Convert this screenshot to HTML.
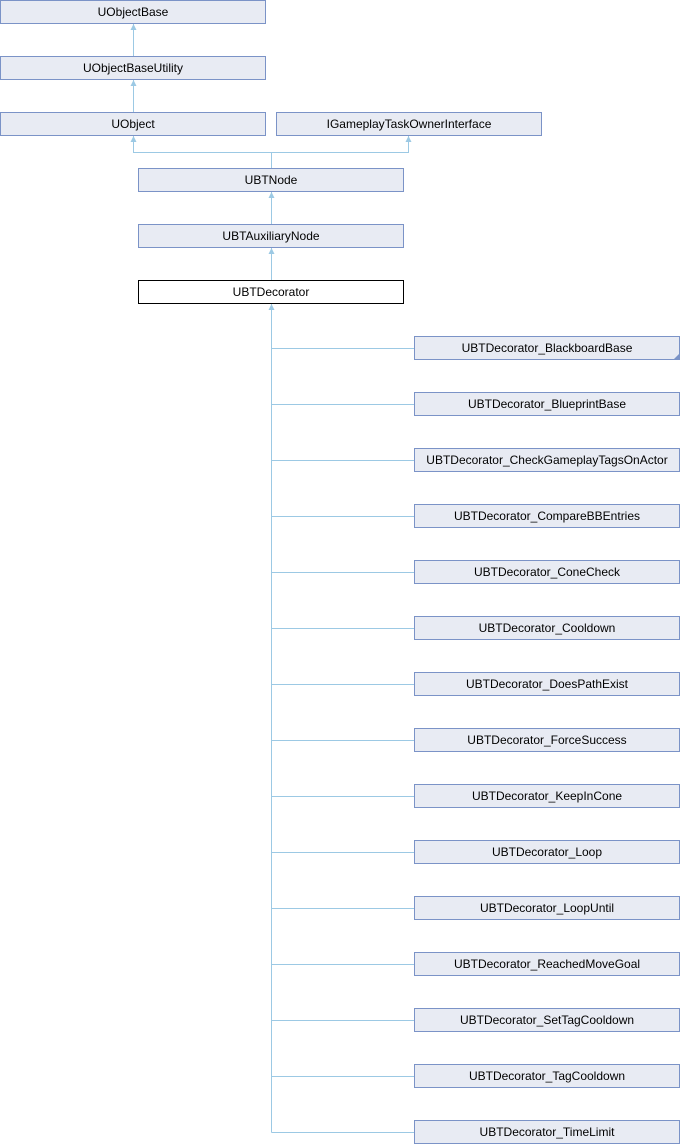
<!DOCTYPE html>
<html><head><style>body{margin:0;background:#fff}svg{display:block}text{font-family:"Liberation Sans",sans-serif;font-size:12px;fill:#000}</style></head><body>
<svg width="680" height="1144" xmlns="http://www.w3.org/2000/svg">
<defs><marker id="a" markerWidth="8" markerHeight="8" refX="4" refY="1" orient="0" markerUnits="userSpaceOnUse"><path d="M1,7 L4,1 L7,7 Z" fill="#9cc9e4"/></marker></defs>
<g stroke="#9cc9e4" fill="none">
<line x1="133.5" y1="56" x2="133.5" y2="24" marker-end="url(#a)"/>
<line x1="133.5" y1="112" x2="133.5" y2="80" marker-end="url(#a)"/>
<polyline points="271.5,168 271.5,152.5 133.5,152.5 133.5,136" marker-end="url(#a)"/>
<polyline points="271.5,152.5 408.5,152.5 408.5,136" marker-end="url(#a)"/>
<line x1="271.5" y1="224" x2="271.5" y2="192" marker-end="url(#a)"/>
<line x1="271.5" y1="280" x2="271.5" y2="248" marker-end="url(#a)"/>
<line x1="271.5" y1="1132.5" x2="271.5" y2="304" marker-end="url(#a)"/>
<line x1="271.5" y1="348.5" x2="414" y2="348.5"/>
<line x1="271.5" y1="404.5" x2="414" y2="404.5"/>
<line x1="271.5" y1="460.5" x2="414" y2="460.5"/>
<line x1="271.5" y1="516.5" x2="414" y2="516.5"/>
<line x1="271.5" y1="572.5" x2="414" y2="572.5"/>
<line x1="271.5" y1="628.5" x2="414" y2="628.5"/>
<line x1="271.5" y1="684.5" x2="414" y2="684.5"/>
<line x1="271.5" y1="740.5" x2="414" y2="740.5"/>
<line x1="271.5" y1="796.5" x2="414" y2="796.5"/>
<line x1="271.5" y1="852.5" x2="414" y2="852.5"/>
<line x1="271.5" y1="908.5" x2="414" y2="908.5"/>
<line x1="271.5" y1="964.5" x2="414" y2="964.5"/>
<line x1="271.5" y1="1020.5" x2="414" y2="1020.5"/>
<line x1="271.5" y1="1076.5" x2="414" y2="1076.5"/>
<line x1="271.5" y1="1132.5" x2="414" y2="1132.5"/>
</g>
<g stroke="#7b93c7" fill="#e8ebf3">
<rect x="0.5" y="0.5" width="265" height="23"/>
<rect x="0.5" y="56.5" width="265" height="23"/>
<rect x="0.5" y="112.5" width="265" height="23"/>
<rect x="276.5" y="112.5" width="265" height="23"/>
<rect x="138.5" y="168.5" width="265" height="23"/>
<rect x="138.5" y="224.5" width="265" height="23"/>
<rect x="414.5" y="336.5" width="265" height="23"/>
<rect x="414.5" y="392.5" width="265" height="23"/>
<rect x="414.5" y="448.5" width="265" height="23"/>
<rect x="414.5" y="504.5" width="265" height="23"/>
<rect x="414.5" y="560.5" width="265" height="23"/>
<rect x="414.5" y="616.5" width="265" height="23"/>
<rect x="414.5" y="672.5" width="265" height="23"/>
<rect x="414.5" y="728.5" width="265" height="23"/>
<rect x="414.5" y="784.5" width="265" height="23"/>
<rect x="414.5" y="840.5" width="265" height="23"/>
<rect x="414.5" y="896.5" width="265" height="23"/>
<rect x="414.5" y="952.5" width="265" height="23"/>
<rect x="414.5" y="1008.5" width="265" height="23"/>
<rect x="414.5" y="1064.5" width="265" height="23"/>
<rect x="414.5" y="1120.5" width="265" height="23"/>
</g>
<rect x="138.5" y="280.5" width="265" height="23" fill="#fff" stroke="#000"/>
<path d="M680,353 L680,359 L674,359 Z" fill="#7b93c7"/>
<g text-anchor="middle">
<text x="133" y="16">UObjectBase</text>
<text x="133" y="72">UObjectBaseUtility</text>
<text x="133" y="128">UObject</text>
<text x="409" y="128">IGameplayTaskOwnerInterface</text>
<text x="271" y="184">UBTNode</text>
<text x="271" y="240">UBTAuxiliaryNode</text>
<text x="271" y="296">UBTDecorator</text>
<text x="547" y="352">UBTDecorator_BlackboardBase</text>
<text x="547" y="408">UBTDecorator_BlueprintBase</text>
<text x="547" y="464">UBTDecorator_CheckGameplayTagsOnActor</text>
<text x="547" y="520">UBTDecorator_CompareBBEntries</text>
<text x="547" y="576">UBTDecorator_ConeCheck</text>
<text x="547" y="632">UBTDecorator_Cooldown</text>
<text x="547" y="688">UBTDecorator_DoesPathExist</text>
<text x="547" y="744">UBTDecorator_ForceSuccess</text>
<text x="547" y="800">UBTDecorator_KeepInCone</text>
<text x="547" y="856">UBTDecorator_Loop</text>
<text x="547" y="912">UBTDecorator_LoopUntil</text>
<text x="547" y="968">UBTDecorator_ReachedMoveGoal</text>
<text x="547" y="1024">UBTDecorator_SetTagCooldown</text>
<text x="547" y="1080">UBTDecorator_TagCooldown</text>
<text x="547" y="1136">UBTDecorator_TimeLimit</text>
</g>
</svg>
</body></html>
